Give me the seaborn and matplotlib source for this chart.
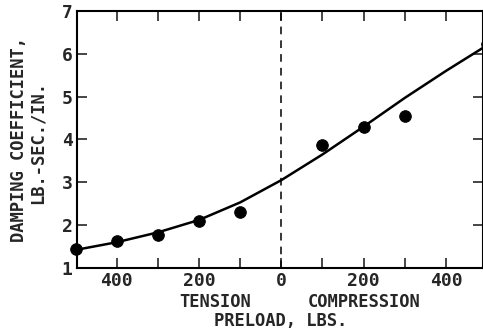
import matplotlib
matplotlib.use("Agg")
import matplotlib.pyplot as plt
import seaborn as sns

# measured points (tension negative, compression positive)
preload_pts = [-500, -400, -300, -200, -100, 100, 200, 300, 500]
damping_pts = [1.45, 1.63, 1.77, 2.1, 2.3, 3.87, 4.3, 4.55, 6.23]

# faired curve
curve_x = [-500, -400, -300, -200, -100, 0, 100, 200, 300, 400, 500]
curve_y = [1.42, 1.6, 1.83, 2.12, 2.53, 3.05, 3.65, 4.3, 4.97, 5.6, 6.2]

xtick_pos = [-400, -200, 0, 200, 400]
xtick_lab = ["400", "200", "0", "200", "400"]
ytick_pos = [1, 2, 3, 4, 5, 6, 7]

sns.set_style("ticks")
plt.rcParams["font.family"] = ["DejaVu Sans Mono", "DejaVu Sans"]
plt.rcParams["font.weight"] = "bold"

fig = plt.figure(figsize=(4.83, 3.32), dpi=100)
ax = fig.add_axes([0.159, 0.193, 0.841, 0.774])

sns.lineplot(x=curve_x, y=curve_y, ax=ax, color="black", linewidth=1.8)
sns.scatterplot(x=preload_pts, y=damping_pts, ax=ax, color="black", s=70,
                edgecolor="black", zorder=3, clip_on=False)
ax.axvline(0, color="black", linestyle=(0, (5, 4)), linewidth=1.1)

ax.set_xlim(-497, 490)
ax.set_ylim(1, 7)
ax.set_xticks(xtick_pos)
ax.set_xticklabels(xtick_lab)
ax.set_xticks(range(-400, 500, 100), minor=True)
ax.set_yticks(ytick_pos)

ax.tick_params(axis="both", which="both", direction="in", length=7, width=1.2,
               top=True, right=True, labelsize=13, pad=3)
for lab in ax.get_xticklabels() + ax.get_yticklabels():
    lab.set_fontweight("bold")
for sp in ax.spines.values():
    sp.set_linewidth(1.5)
    sp.set_color("black")

ax.set_xlabel("")
ax.set_ylabel("")
fig.text(19 / 483, 1 - 140 / 332, "DAMPING COEFFICIENT,", rotation=90, ha="center",
         va="center", fontsize=12.3, fontweight="bold")
fig.text(37.5 / 483, 1 - 142 / 332, "LB.-SEC./IN.", rotation=90, ha="center",
         va="center", fontsize=12.3, fontweight="bold")
fig.text(215 / 483, 1 - 302 / 332, "TENSION", ha="center", va="center",
         fontsize=12.3, fontweight="bold")
fig.text(364 / 483, 1 - 302 / 332, "COMPRESSION", ha="center", va="center",
         fontsize=12.3, fontweight="bold")
fig.text(281 / 483, 1 - 321 / 332, "PRELOAD, LBS.", ha="center", va="center",
         fontsize=12.3, fontweight="bold")

fig.savefig("out.png", dpi=100)
